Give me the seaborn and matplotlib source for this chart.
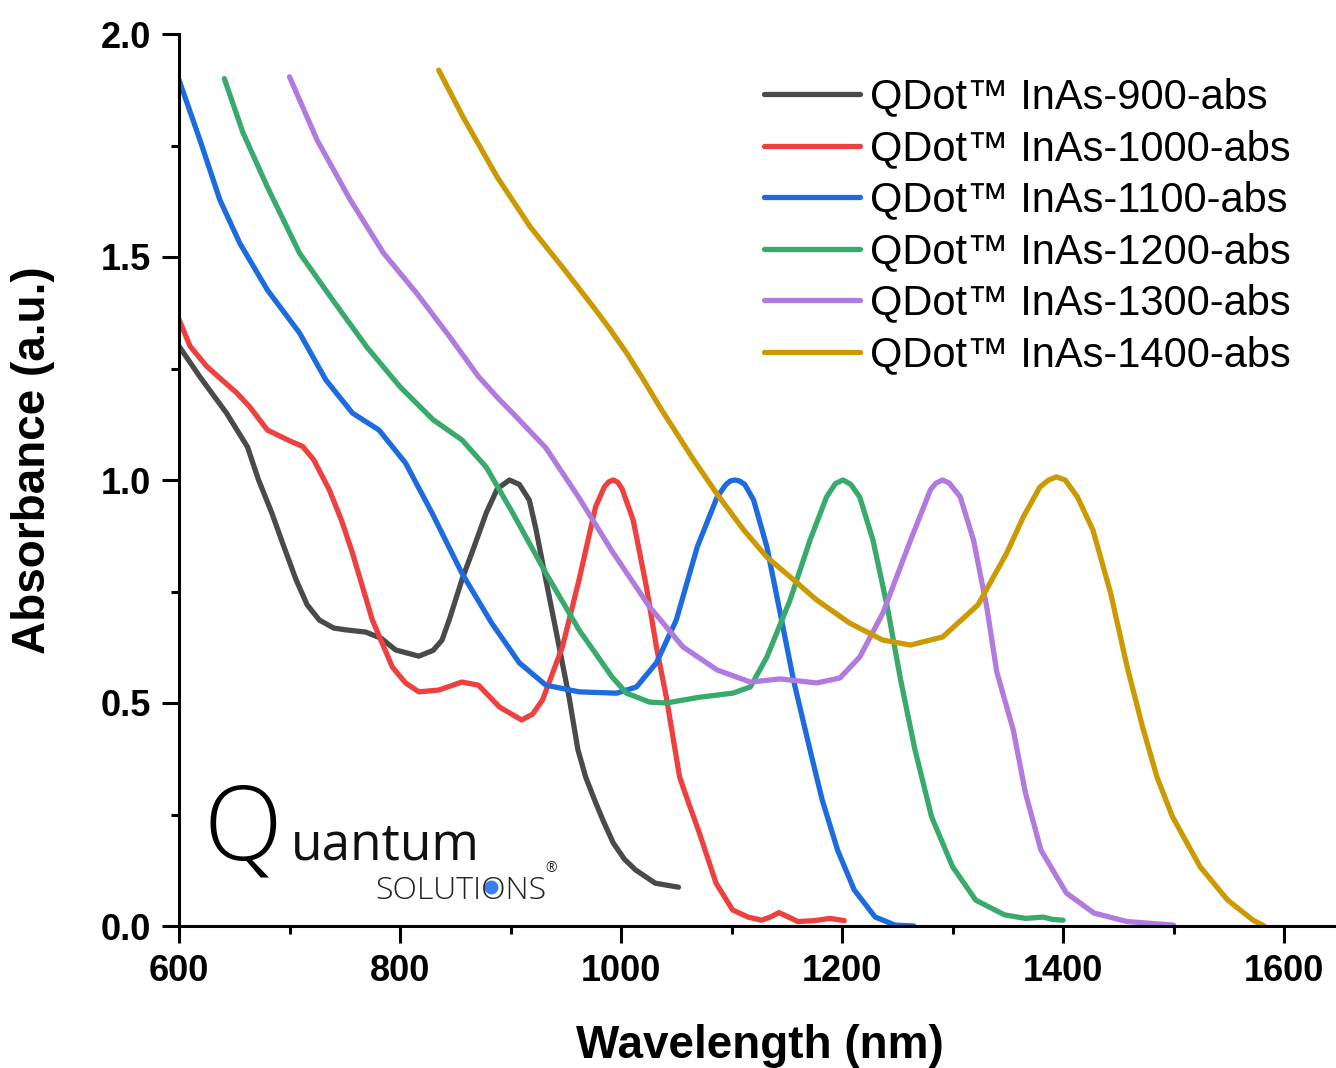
import pandas as pd
import numpy as np
import matplotlib.pyplot as plt
from matplotlib.ticker import MultipleLocator
import seaborn as sns

# absorbance spectra (wavelength nm / absorbance a.u.)
wl_900 = [600, 619, 643, 662, 672, 684, 695, 706, 716, 727, 740, 751, 769, 783, 796, 817, 830, 838,
          845, 856, 867, 878, 888, 899, 908, 917, 923, 929, 941, 953, 961, 968, 976, 984, 993, 1003,
          1013, 1031, 1052]
abs_900 = [1.30, 1.231, 1.150, 1.074, 1.0, 0.926, 0.85, 0.776, 0.72, 0.686, 0.668, 0.664, 0.659,
           0.645, 0.619, 0.605, 0.618, 0.641, 0.69, 0.776, 0.85, 0.926, 0.98, 1.0, 0.99, 0.955, 0.89,
           0.814, 0.664, 0.513, 0.395, 0.334, 0.283, 0.235, 0.186, 0.15, 0.126, 0.096, 0.087]

wl_1000 = [600, 610, 625, 639, 652, 664, 680, 700, 712, 722, 736, 747, 757, 775, 793, 805, 817, 835,
           856, 871, 890, 910, 920, 929, 947, 962, 977, 985, 989, 993, 997, 1001, 1011, 1023, 1032,
           1041, 1053, 1062, 1071, 1086, 1101, 1115, 1127, 1135, 1143, 1150, 1160, 1175, 1189, 1202]
abs_1000 = [1.36, 1.30, 1.255, 1.224, 1.196, 1.164, 1.112, 1.088, 1.075, 1.045, 0.978, 0.91, 0.836,
            0.686, 0.581, 0.545, 0.525, 0.529, 0.547, 0.540, 0.491, 0.462, 0.475, 0.507, 0.626,
            0.776, 0.940, 0.985, 0.996, 1.0, 0.995, 0.98, 0.91, 0.76, 0.626, 0.513, 0.334, 0.27,
            0.208, 0.096, 0.036, 0.02, 0.013, 0.02, 0.03, 0.022, 0.01, 0.012, 0.017, 0.012]

wl_1100 = [600, 619, 637, 655, 680, 709, 733, 757, 781, 805, 829, 856, 883, 908, 932, 962, 996, 1014,
           1032, 1050, 1069, 1087, 1095, 1099, 1103, 1107, 1112, 1120, 1132, 1144, 1156, 1171, 1182,
           1196, 1211, 1230, 1248, 1265]
abs_1100 = [1.897, 1.762, 1.628, 1.531, 1.426, 1.330, 1.224, 1.150, 1.112, 1.038, 0.926, 0.791,
            0.679, 0.590, 0.540, 0.525, 0.522, 0.536, 0.590, 0.686, 0.850, 0.962, 0.99, 0.998, 1.0,
            0.998, 0.99, 0.955, 0.850, 0.702, 0.552, 0.395, 0.283, 0.170, 0.081, 0.020, 0.002, 0.0]

wl_1200 = [641, 658, 680, 709, 739, 770, 800, 830, 856, 878, 902, 932, 962, 992, 1005, 1026, 1041,
           1071, 1101, 1117, 1132, 1153, 1171, 1186, 1194, 1201, 1208, 1216, 1228, 1241, 1253, 1266,
           1281, 1300, 1321, 1347, 1366, 1382, 1390, 1400]
abs_1200 = [1.90, 1.778, 1.657, 1.509, 1.404, 1.298, 1.209, 1.135, 1.09, 1.029, 0.926, 0.791, 0.664,
            0.558, 0.522, 0.502, 0.500, 0.513, 0.522, 0.536, 0.603, 0.731, 0.865, 0.962, 0.992, 1.0,
            0.99, 0.962, 0.865, 0.715, 0.552, 0.395, 0.245, 0.133, 0.058, 0.025, 0.017, 0.020,
            0.015, 0.013]

wl_1300 = [700, 725, 755, 785, 815, 845, 871, 890, 902, 932, 962, 992, 1026, 1056, 1087, 1117, 1144,
           1177, 1198, 1216, 1237, 1262, 1280, 1285, 1291, 1297, 1307, 1319, 1331, 1340, 1355, 1366,
           1380, 1403, 1428, 1458, 1500]
abs_1300 = [1.904, 1.762, 1.628, 1.509, 1.419, 1.321, 1.232, 1.180, 1.150, 1.072, 0.96, 0.84, 0.715,
            0.626, 0.574, 0.547, 0.554, 0.545, 0.556, 0.603, 0.702, 0.865, 0.978, 0.993, 1.0, 0.993,
            0.962, 0.865, 0.715, 0.57, 0.439, 0.298, 0.170, 0.074, 0.029, 0.010, 0.002]

wl_1400 = [835, 857, 888, 918, 948, 975, 990, 1005, 1020, 1035, 1050, 1065, 1087, 1111, 1132, 1153,
           1177, 1207, 1237, 1262, 1291, 1323, 1349, 1364, 1379, 1387, 1394, 1402, 1413, 1427, 1443,
           1458, 1472, 1485, 1499, 1524, 1549, 1572, 1582]
abs_1400 = [1.919, 1.814, 1.679, 1.567, 1.474, 1.388, 1.338, 1.285, 1.226, 1.164, 1.106, 1.048,
            0.968, 0.888, 0.827, 0.783, 0.731, 0.679, 0.641, 0.630, 0.648, 0.72, 0.836, 0.917,
            0.984, 1.0, 1.007, 1.0, 0.962, 0.888, 0.747, 0.581, 0.446, 0.334, 0.245, 0.133, 0.058,
            0.013, 0.0]

labels = ['QDot™ InAs-900-abs', 'QDot™ InAs-1000-abs', 'QDot™ InAs-1100-abs',
          'QDot™ InAs-1200-abs', 'QDot™ InAs-1300-abs', 'QDot™ InAs-1400-abs']
colors = ['#4a4a4a', '#ef4040', '#1c6ce0', '#38aa6b', '#b07adf', '#cc9900']

series = [(wl_900, abs_900), (wl_1000, abs_1000), (wl_1100, abs_1100),
          (wl_1200, abs_1200), (wl_1300, abs_1300), (wl_1400, abs_1400)]

frames = []
for name, (wl, ab) in zip(labels, series):
    frames.append(pd.DataFrame({'wavelength': wl, 'absorbance': ab, 'sample': name}))
df = pd.concat(frames, ignore_index=True)

sns.set_theme(style='ticks')
plt.rcParams['font.family'] = ['Liberation Sans', 'DejaVu Sans']
plt.rcParams['text.color'] = 'black'
plt.rcParams['axes.labelcolor'] = 'black'

fig = plt.figure(figsize=(13.36, 10.68), dpi=100)
ax = fig.add_axes([179 / 1336, 142 / 1068, 1157 / 1336, 892 / 1068])

sns.lineplot(data=df, x='wavelength', y='absorbance', hue='sample', hue_order=labels,
             palette=colors, estimator=None, sort=False, lw=3.8,
             solid_capstyle='round', solid_joinstyle='round', ax=ax)

ax.set_xlim(600, 1647)
ax.set_ylim(0, 2.0)
ax.xaxis.set_major_locator(MultipleLocator(200))
ax.xaxis.set_minor_locator(MultipleLocator(100))
ax.yaxis.set_major_locator(MultipleLocator(0.5))
ax.yaxis.set_minor_locator(MultipleLocator(0.25))

for side in ['top', 'right']:
    ax.spines[side].set_visible(False)
for side in ['left', 'bottom']:
    ax.spines[side].set_linewidth(2.2)
    ax.spines[side].set_color('black')

ax.tick_params(which='major', direction='out', length=12, width=2.2, pad=8,
               labelsize=26, colors='black')
ax.tick_params(which='minor', direction='out', length=6, width=2.2, colors='black')
for lab in ax.get_xticklabels() + ax.get_yticklabels():
    lab.set_fontweight('bold')

ax.set_xlabel('Wavelength (nm)', fontsize=33, fontweight='bold')
ax.set_ylabel('Absorbance (a.u.)', fontsize=33, fontweight='bold')
ax.xaxis.set_label_coords(0.502, -0.110)
ax.yaxis.set_label_coords(-0.107, 0.522)

handles, labs = ax.get_legend_handles_labels()
leg = ax.legend(handles, labs, loc='upper left', bbox_to_anchor=(0.5056, 0.951),
                frameon=False, fontsize=30, handlelength=2.3, handletextpad=0.25,
                labelspacing=0.276, borderpad=0, borderaxespad=0)
for h in leg.legend_handles:
    h.set_linewidth(3.8)
    h.set_solid_capstyle('round')
for t in leg.get_texts():
    t.set_color('black')

# company logo in the lower left corner
ax.text(0.021, 0.074, 'Q', transform=ax.transAxes, fontsize=74, fontweight='light',
        family=['Open Sans', 'DejaVu Sans'], color='black', va='baseline')
ax.text(0.097, 0.074, 'uantum', transform=ax.transAxes, fontsize=37, fontweight='normal',
        family=['Open Sans', 'DejaVu Sans'], color='#111111', va='baseline')
ax.text(0.170, 0.030, 'SOLUTIONS', transform=ax.transAxes, fontsize=23, fontweight='light',
        family=['Open Sans', 'DejaVu Sans'], color='#222222', va='baseline')
ax.text(0.317, 0.060, '®', transform=ax.transAxes, fontsize=10,
        family=['Open Sans', 'DejaVu Sans'], color='#222222', va='baseline')
ax.plot([0.270], [0.0437], 'o', transform=ax.transAxes, color='#3a7ff0', ms=9)

fig.savefig('out.png', dpi=100)
